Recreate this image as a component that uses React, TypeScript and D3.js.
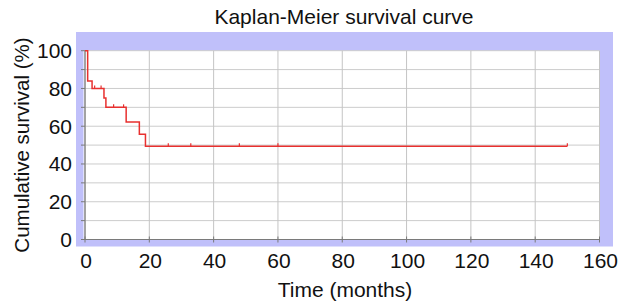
import React from "react";
import * as d3 from "d3";

const eventTimes = [0, 0.83, 2.2, 5.9, 6.5, 12.8, 16.9, 18.8, 150];
const survival = [100, 84, 80, 75, 70, 62.2, 55.7, 49.4, 49.4];
const censorTimes = [3.0, 5.0, 8.9, 12.0, 25.9, 32.9, 48.0, 60.0, 150];
const xTicks = [0, 20, 40, 60, 80, 100, 120, 140, 160];
const yTicks = [0, 20, 40, 60, 80, 100];
const yGrid = [0, 10, 20, 30, 40, 50, 60, 70, 80, 90, 100];

const FONT = "'Liberation Sans', Arial, Helvetica, sans-serif";

export default function App() {
  const W = 630, H = 304;
  const x = d3.scaleLinear().domain([0, 160]).range([85, 599.5]);
  const y = d3.scaleLinear().domain([0, 100]).range([239.5, 50.7]);
  const pts: [number, number][] = eventTimes.map((t, i) => [t, survival[i]]);
  const line = d3
    .line<[number, number]>()
    .x((d) => x(d[0]))
    .y((d) => y(d[1]))
    .curve(d3.curveStepAfter);
  const survAt = (t: number) => {
    let s = survival[0];
    for (let i = 0; i < eventTimes.length; i++) if (eventTimes[i] <= t) s = survival[i];
    return s;
  };
  const [x0, x1] = x.range();
  const [yb, yt] = y.range();
  return (
    <svg width={W} height={H} style={{ position: "absolute", left: 0, top: 0 }} fontFamily={FONT}>
      <rect x={0} y={0} width={W} height={H} fill="#fff" />
      <text x={344} y={24} fontSize={21} textAnchor="middle" fill="#111">
        Kaplan-Meier survival curve
      </text>
      <rect x={76} y={32} width={537} height={214.5} fill="#c0c0fa" />
      <rect x={x0 - 1.5} y={yt} width={x1 - x0 + 1.5} height={yb - yt + 0.5} fill="#fff" />
      {yGrid.map((v) => (
        <line key={"hg" + v} x1={x0} x2={x1} y1={y(v)} y2={y(v)} stroke="#cccccc" strokeWidth={1} />
      ))}
      {xTicks.map((v) => (
        <line key={"vg" + v} x1={x(v)} x2={x(v)} y1={yt} y2={yb} stroke="#c4c4c4" strokeWidth={1} />
      ))}
      <line x1={x0} x2={x0} y1={yt} y2={yb} stroke="#7a7a7a" strokeWidth={1.2} />
      <line x1={x0} x2={x1} y1={yb} y2={yb} stroke="#7a7a7a" strokeWidth={1.2} />
      {yGrid.map((v) => (
        <line key={"yt" + v} x1={x0 - 4} x2={x0} y1={y(v)} y2={y(v)} stroke="#7a7a7a" strokeWidth={1} />
      ))}
      {xTicks.map((v) => (
        <line key={"xt" + v} x1={x(v)} x2={x(v)} y1={yb - 3} y2={yb + 3} stroke="#7a7a7a" strokeWidth={1} />
      ))}
      {yTicks.map((v) => (
        <text key={"yl" + v} x={72} y={y(v) + 7.5} fontSize={21} textAnchor="end" fill="#111">
          {v}
        </text>
      ))}
      {xTicks.map((v) => (
        <text key={"xl" + v} x={x(v) + 1} y={268} fontSize={21} textAnchor="middle" fill="#111">
          {v}
        </text>
      ))}
      <text x={345} y={297} fontSize={21} textAnchor="middle" fill="#111">
        Time (months)
      </text>
      <text
        transform={`translate(29,145) rotate(-90)`}
        fontSize={20.5}
        textAnchor="middle"
        fill="#111"
      >
        Cumulative survival (%)
      </text>
      <path d={line(pts) || ""} fill="none" stroke="#e8302f" strokeWidth={1.5} />
      {censorTimes.map((t) => (
        <line
          key={"c" + t}
          x1={x(t)}
          x2={x(t)}
          y1={y(survAt(t))}
          y2={y(survAt(t)) - 3}
          stroke="#e8302f"
          strokeWidth={1.2}
        />
      ))}
    </svg>
  );
}
